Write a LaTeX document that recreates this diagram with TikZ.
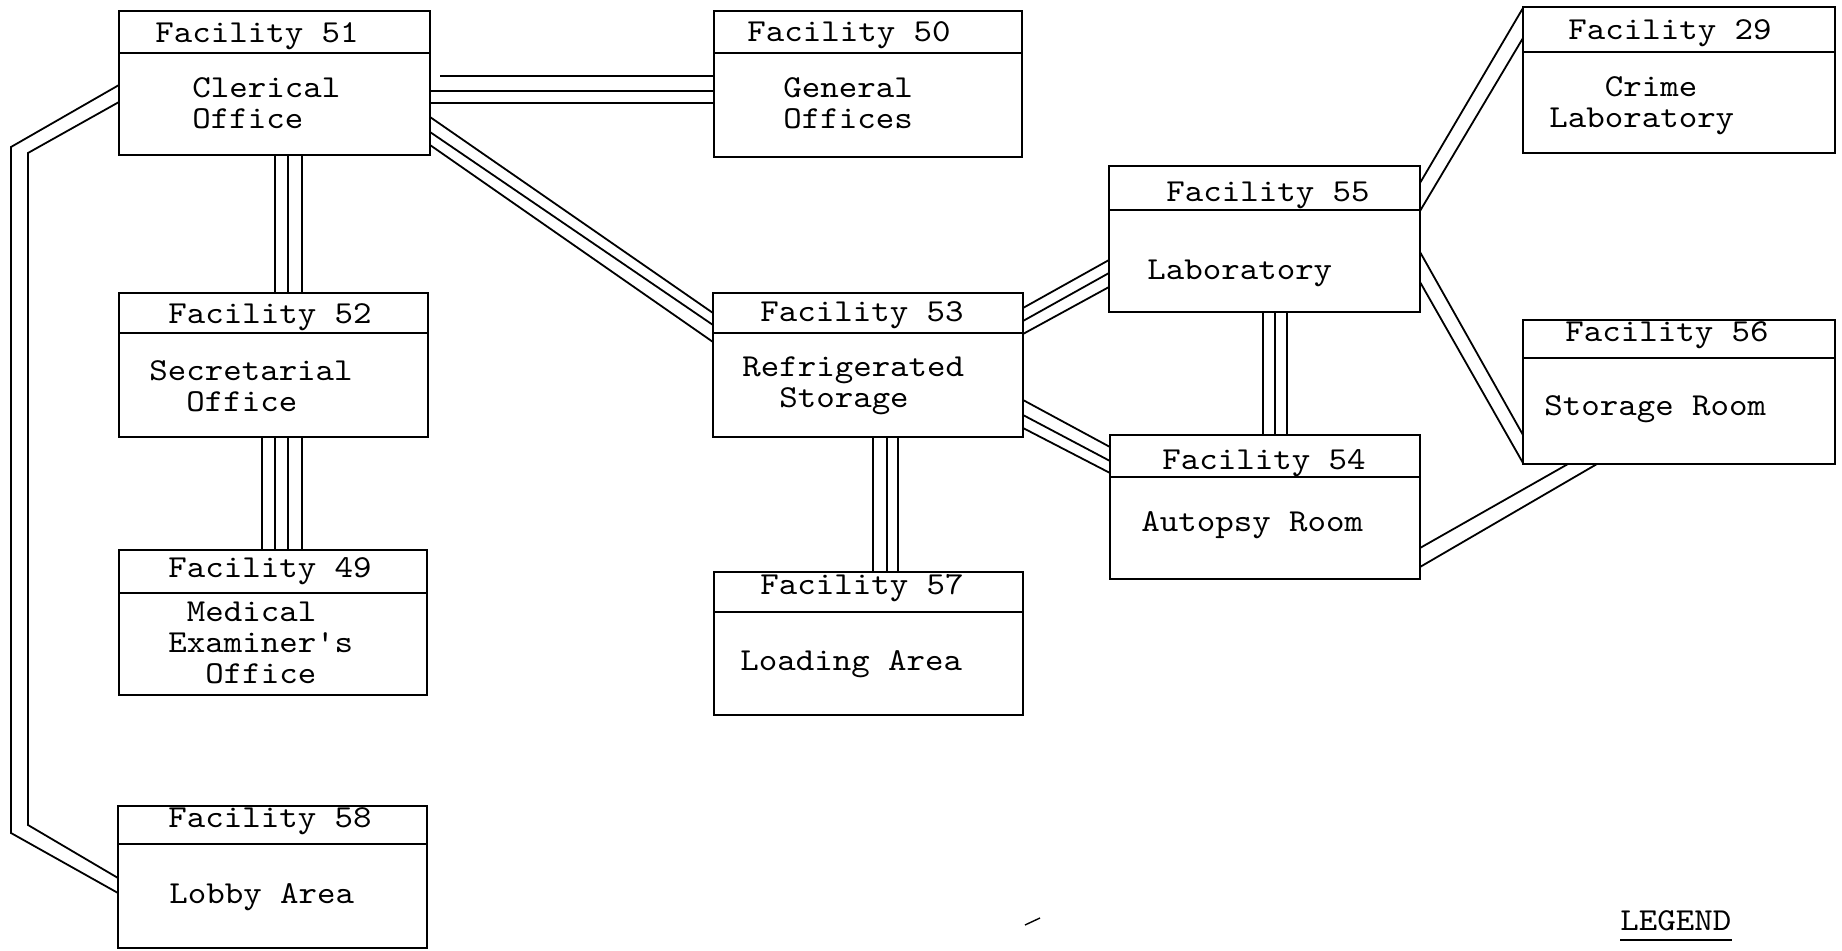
\documentclass[tikz,border=0pt]{standalone}
\usepackage{fontspec}
\newfontfamily\typewriter{lmmono10-regular}[Extension=.otf, FakeStretch=1.1]
\usetikzlibrary{fit}
\newcommand\facilitybox[6]{%
  \node[room, fit={(#2,#3) (#4,#5)}] (#1) {};
  \draw[roomline] (#2,#6) -- (#4,#6);}
\newcommand\ind[1]{\phantom{#1}}
\begin{document}
\begin{tikzpicture}[x=0.5pt,y=-0.5pt,
  room/.style={draw, line width=1.1pt, inner sep=0pt, outer sep=0pt},
  roomline/.style={line width=1.1pt},
  lbl/.style={anchor=base west, inner sep=0pt, align=left,
    font=\typewriter\fontsize{16}{15.5}\selectfont},
  duct/.style={line width=0.9pt}]
\useasboundingbox (0,0) rectangle (1842,951);

% rooms: name, corners, header rule
\facilitybox{f51}{119}{11}{430}{155}{53}
\facilitybox{f50}{714}{11}{1022}{157}{53}
\facilitybox{f52}{119}{293}{428}{437}{333}
\facilitybox{f49}{119}{550}{427}{695}{593}
\facilitybox{f58}{118}{806}{427}{948}{844}
\facilitybox{f53}{713}{293}{1023}{437}{333}
\facilitybox{f57}{714}{572}{1023}{715}{612}
\facilitybox{f55}{1109}{166}{1420}{312}{210}
\facilitybox{f54}{1110}{435}{1420}{579}{477}
\facilitybox{f29}{1523}{7}{1835}{153}{52}
\facilitybox{f56}{1523}{320}{1835}{464}{358}

% labels (placed at the baseline of their last line)
\node[lbl] (t51a) at (155,43) {Facility 51};
\node[lbl] (t51b) at (192,129) {Clerical\\Office};
\node[lbl] (t50a) at (747,42) {Facility 50};
\node[lbl] (t50b) at (783,129) {General\\Offices};
\node[lbl] (t52a) at (168,324) {Facility 52};
\node[lbl] (t52b) at (149,412) {Secretarial\\\ind{xx}Office};
\node[lbl] (t49a) at (168,578) {Facility 49};
\node[lbl] (t49b) at (168,683) {\ind{x}Medical\\Examiner's\\\ind{xx}Office};
\node[lbl] (t58a) at (168,827) {Facility 58};
\node[lbl] (t58b) at (169,903) {Lobby Area};
\node[lbl] (t53a) at (760,322) {Facility 53};
\node[lbl] (t53b) at (742,408) {Refrigerated\\\ind{xx}Storage};
\node[lbl] (t57a) at (760,595) {Facility 57};
\node[lbl] (t57b) at (740,670) {Loading Area};
\node[lbl] (t55a) at (1166,202) {Facility 55};
\node[lbl] (t55b) at (1147,280) {Laboratory};
\node[lbl] (t54a) at (1162,470) {Facility 54};
\node[lbl] (t54b) at (1141,532) {Autopsy Room};
\node[lbl] (t29a) at (1568,40) {Facility 29};
\node[lbl] (t29b) at (1549,128) {\ind{xxx}Crime\\Laboratory};
\node[lbl] (t56a) at (1565,342) {Facility 56};
\node[lbl] (t56b) at (1544,416) {Storage Room};
\node[lbl] (legend) at (1620,930) {LEGEND};
\draw[duct] ([shift={(0,10)}]legend.base west) -- ([shift={(0,10)}]legend.base east);

% 51 - 58, around the left side
\draw[duct] ([shift={(0,74)}]f51.north west) -- (11,147) -- (11,833) -- ([shift={(0,87)}]f58.north west);
\draw[duct] ([shift={(0,91)}]f51.north west) -- (28,153) -- (28,825) -- ([shift={(0,72)}]f58.north west);

% 51 - 50
\draw[duct] ([shift={(10,65)}]f51.north east) -- ([shift={(0,65)}]f50.north west);
\draw[duct] ([shift={(0,80)}]f51.north east) -- ([shift={(0,80)}]f50.north west);
\draw[duct] ([shift={(0,92)}]f51.north east) -- ([shift={(0,92)}]f50.north west);

% 51 - 53
\draw[duct] ([shift={(0,106)}]f51.north east) -- ([shift={(0,20)}]f53.north west);
\draw[duct] ([shift={(0,121)}]f51.north east) -- ([shift={(0,32)}]f53.north west);
\draw[duct] ([shift={(0,134)}]f51.north east) -- ([shift={(0,49)}]f53.north west);

% 51 - 52
\foreach \dx in {156,169,183}
  \draw[duct] ([shift={(\dx,0)}]f51.south west) -- ([shift={(\dx,0)}]f52.north west);

% 52 - 49
\foreach \dx in {143,156,169,183}
  \draw[duct] ([shift={(\dx,0)}]f52.south west) -- ([shift={(\dx,0)}]f49.north west);

% 53 - 57
\foreach \dx in {160,174,185}
  \draw[duct] ([shift={(\dx,0)}]f53.south west) -- ([shift={(\dx-1,0)}]f57.north west);

% 53 - 55
\draw[duct] ([shift={(0,15)}]f53.north east) -- ([shift={(0,94)}]f55.north west);
\draw[duct] ([shift={(0,28)}]f53.north east) -- ([shift={(0,107)}]f55.north west);
\draw[duct] ([shift={(0,41)}]f53.north east) -- ([shift={(0,121)}]f55.north west);

% 53 - 54
\draw[duct] ([shift={(0,107)}]f53.north east) -- ([shift={(0,12)}]f54.north west);
\draw[duct] ([shift={(0,122)}]f53.north east) -- ([shift={(0,26)}]f54.north west);
\draw[duct] ([shift={(0,135)}]f53.north east) -- ([shift={(0,38)}]f54.north west);

% 55 - 54
\foreach \dx in {154,166,178}
  \draw[duct] ([shift={(\dx,0)}]f55.south west) -- ([shift={(\dx-1,0)}]f54.north west);

% 55 - 29
\draw[duct] ([shift={(0,17)}]f55.north east) -- ([shift={(0,1)}]f29.north west);
\draw[duct] ([shift={(0,45)}]f55.north east) -- ([shift={(0,31)}]f29.north west);

% 55 - 56
\draw[duct] ([shift={(0,86)}]f55.north east) -- ([shift={(0,115)}]f56.north west);
\draw[duct] ([shift={(0,116)}]f55.north east) -- ([shift={(0,143)}]f56.north west);

% 54 - 56
\draw[duct] ([shift={(0,113)}]f54.north east) -- ([shift={(45,0)}]f56.south west);
\draw[duct] ([shift={(0,132)}]f54.north east) -- ([shift={(74,0)}]f56.south west);

% small pen stroke below the plan
\draw[line width=0.7pt] (1025,925) -- (1040,918);
\end{tikzpicture}
\end{document}
